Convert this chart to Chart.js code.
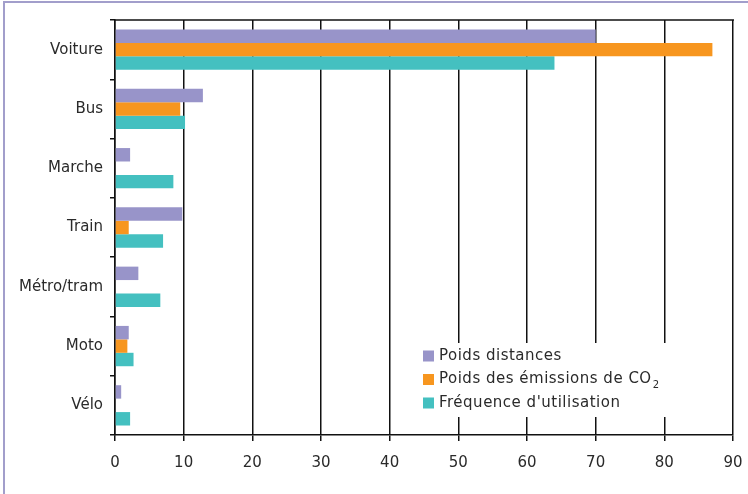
<!DOCTYPE html>
<html>
<head>
<meta charset="utf-8">
<script src="https://cdn.jsdelivr.net/npm/chart.js@4.4.4/dist/chart.umd.min.js"></script>
<style>
  html, body { margin: 0; padding: 0; background: #fff; }
  #wrap { position: relative; width: 748px; height: 494px; overflow: hidden; }
  #frame {
    position: absolute; left: 3px; top: 1px; width: 900px; height: 700px;
    border-top: 2px solid #a29ecb; border-left: 2px solid #a29ecb;
    pointer-events: none;
  }
</style>
</head>
<body>
<div id="wrap">
  <canvas id="c" width="748" height="494"></canvas>
  <div id="frame"></div>
</div>
<script>
// data
var categories = ['Voiture', 'Bus', 'Marche', 'Train', 'Métro/tram', 'Moto', 'Vélo'];
var poidsDistances = [70, 12.8, 2.2, 9.8, 3.4, 2.0, 0.9];
var poidsEmissions = [87, 9.5, null, 2.0, null, 1.8, null];
var frequence = [64, 10.2, 8.5, 7.0, 6.6, 2.7, 2.2];
var seriesNames = ['Poids distances', 'Poids des émissions de CO₂', "Fréquence d'utilisation"];
var xTicks = [0, 10, 20, 30, 40, 50, 60, 70, 80, 90];

var colors = ['#9894c9', '#f7961f', '#44c0c0'];
var ink = '#111';
var textColor = '#2a2a2a';
var font = 'DejaVu Sans';

// top frame line + legend box drawn inside the plot area
var framePlugin = {
  id: 'framePlugin',
  afterDatasetsDraw: function (chart) {
    var ctx = chart.ctx;
    var a = chart.chartArea;
    ctx.save();
    ctx.strokeStyle = ink;
    ctx.lineWidth = 1.5;
    ctx.beginPath();
    ctx.moveTo(a.left - 1, a.top);
    ctx.lineTo(a.right + 1, a.top);
    ctx.stroke();

    // legend
    ctx.fillStyle = '#fff';
    ctx.fillRect(412, 343, 294, 74);
    ctx.font = '15px "' + font + '"';
    ctx.letterSpacing = '0.5px';
    ctx.textBaseline = 'middle';
    ctx.textAlign = 'left';
    chart.data.datasets.forEach(function (ds, i) {
      var y = 356 + i * 23.5;
      ctx.fillStyle = ds.backgroundColor;
      ctx.fillRect(423, y - 5.5, 11, 11);
      ctx.fillStyle = textColor;
      var parts = ds.label.split('₂');
      ctx.fillText(parts[0], 439, y);
      if (parts.length > 1) {
        var w = ctx.measureText(parts[0]).width;
        ctx.font = '10px "' + font + '"';
        ctx.fillText('2', 439 + w + 1, y + 6);
        ctx.font = '15px "' + font + '"';
      }
    });
    ctx.restore();
  }
};

new Chart(document.getElementById('c'), {
  type: 'bar',
  data: {
    labels: categories,
    datasets: [
      { label: seriesNames[0], data: poidsDistances, backgroundColor: colors[0] },
      { label: seriesNames[1], data: poidsEmissions, backgroundColor: colors[1] },
      { label: seriesNames[2], data: frequence, backgroundColor: colors[2] }
    ]
  },
  options: {
    indexAxis: 'y',
    responsive: false,
    animation: false,
    devicePixelRatio: 1,
    layout: { padding: { left: 0, top: 20, right: 15, bottom: 0 } },
    datasets: { bar: { categoryPercentage: 0.68, barPercentage: 1.0, borderWidth: 0 } },
    plugins: {
      legend: { display: false },
      tooltip: { enabled: false }
    },
    scales: {
      x: {
        min: 0,
        max: 90,
        afterBuildTicks: function (scale) {
          scale.ticks = xTicks.map(function (v) { return { value: v }; });
        },
        afterFit: function (scale) {
          scale.height = 59;
          scale.paddingLeft = 0;
          scale.paddingRight = 0;
        },
        grid: { color: ink, lineWidth: 1.5, tickLength: 6, drawTicks: true },
        border: { display: true, color: ink, width: 1.5 },
        ticks: {
          color: textColor, padding: 13, maxRotation: 0,
          font: { family: font, size: 15 }
        }
      },
      y: {
        afterFit: function (scale) {
          scale.width = 115;
          scale.paddingTop = 0;
          scale.paddingBottom = 0;
        },
        grid: { display: true, drawOnChartArea: false, drawTicks: true, tickLength: 5, color: ink, lineWidth: 1.5, offset: true },
        border: { display: true, color: ink, width: 1.5 },
        ticks: {
          color: textColor, padding: 7,
          font: { family: font, size: 15 }
        }
      }
    }
  },
  plugins: [framePlugin]
});
</script>
</body>
</html>
